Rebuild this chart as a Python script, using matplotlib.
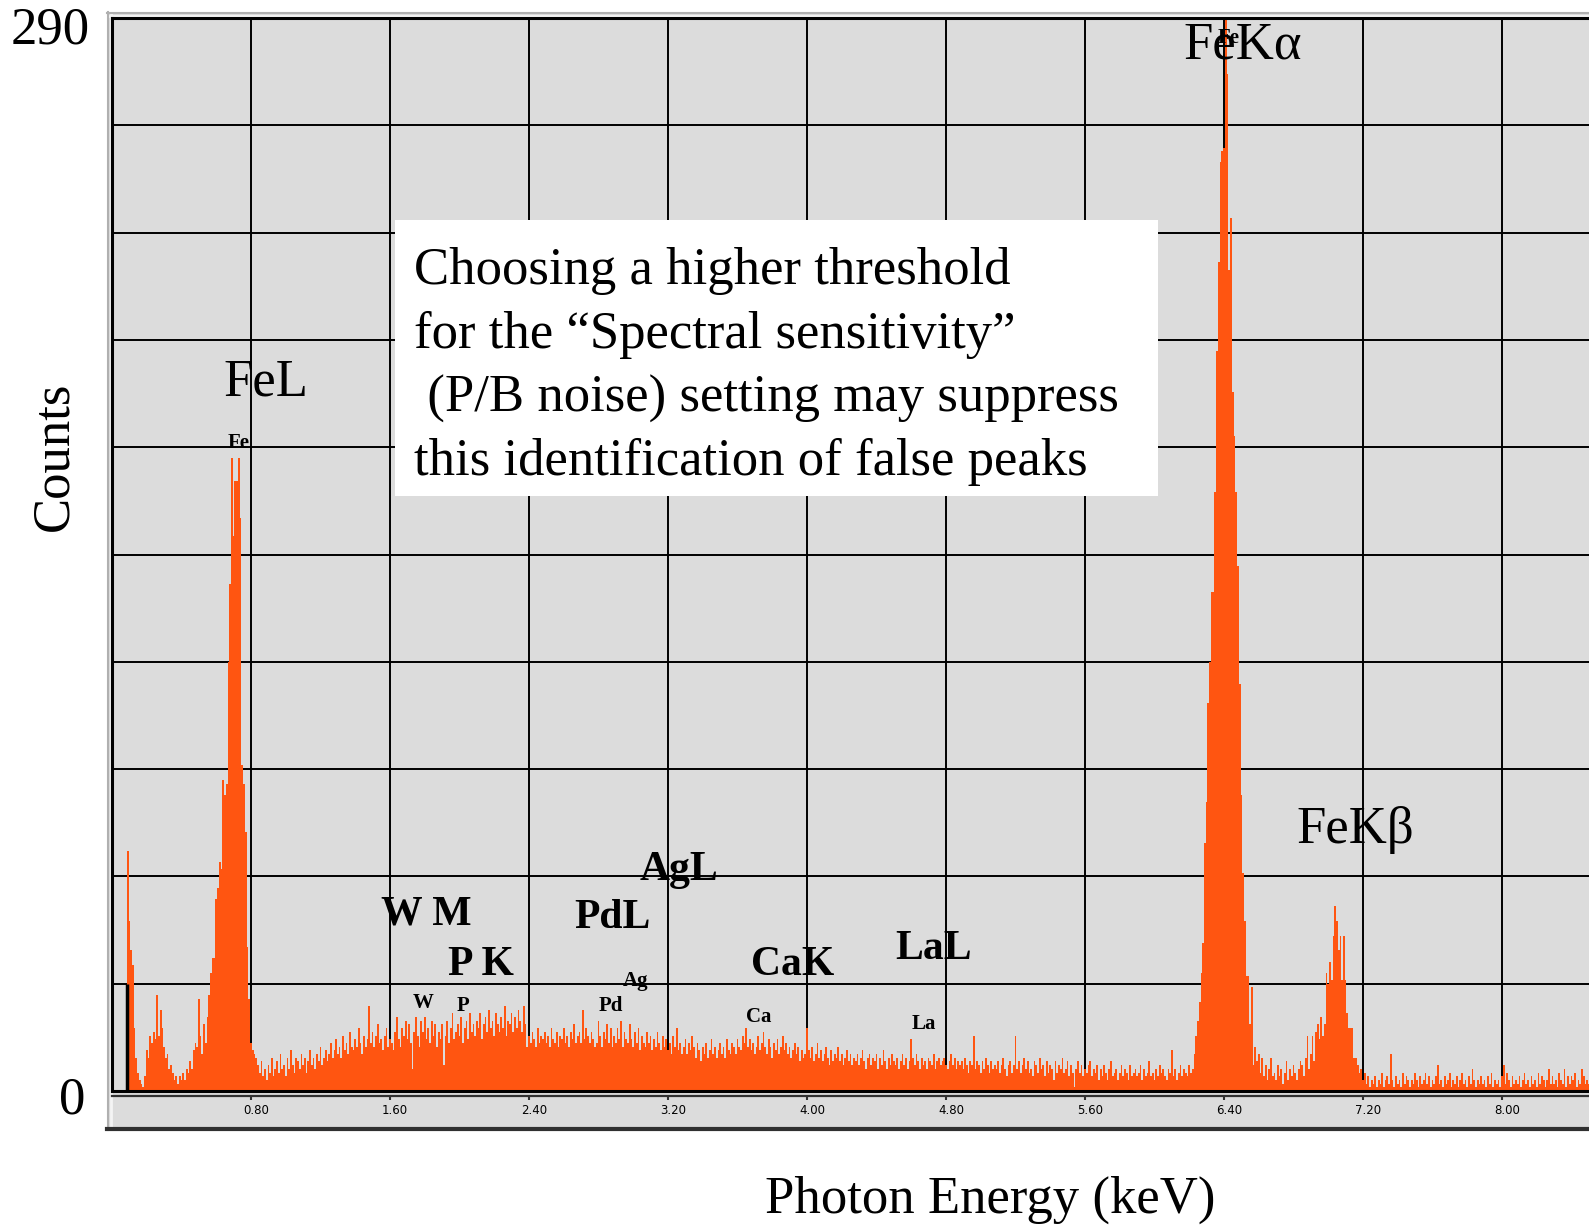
import numpy as np
import matplotlib.pyplot as plt
from matplotlib.patches import Rectangle
from matplotlib.lines import Line2D
from matplotlib.transforms import ScaledTranslation

plt.rcParams['font.family'] = ['Liberation Serif', 'DejaVu Serif']

# spectrum, 10 eV channels, counts
start_a = 0.09
counts_a = [65, 46, 38, 34, 17, 9, 5, 3, 2, 1,
            4, 11, 9, 15, 13, 16, 14, 26, 15, 22,
            17, 12, 9, 10, 6, 7, 5, 3, 4, 2,
            4, 3, 5, 3, 6, 5, 8, 6, 11, 13,
            12, 25, 15, 10, 18, 13, 20, 26, 32, 36,
            36, 52, 55, 62, 60, 84, 80, 83, 116, 137,
            171, 150, 165, 165, 171, 155, 88, 83, 70, 39,
            25, 13, 11, 10, 9, 7, 5, 8, 4, 6,
            3, 7, 5, 9, 4, 6, 8, 5, 10, 6]

start_b = 0.99
counts_b = [7, 4, 9, 6, 11, 7, 5, 9, 8, 6,
            10, 7, 9, 5, 8, 11, 7, 9, 6, 10,
            8, 12, 7, 9, 11, 8, 10, 13, 9, 11,
            14, 10, 12, 9, 15, 11, 13, 10, 16, 12,
            11, 14, 12, 17, 13, 10, 15, 12, 14, 23,
            13, 16, 12, 15, 18, 13, 14, 11, 15, 17,
            12, 14, 13, 11, 16, 20, 14, 12, 17, 15,
            19, 14, 18, 13, 6, 16, 20, 15, 12, 19,
            16, 20, 14, 17, 13, 19, 15, 18, 12, 16,
            14, 18, 7, 15, 19, 13, 17, 21, 14, 16,
            18, 15, 20, 13, 17, 19, 14, 21, 16, 18,
            15, 19, 17, 21, 14, 18, 20, 16, 22, 17,
            19, 15, 21, 18, 16, 20, 17, 23, 15, 19,
            18, 21, 16, 20, 17, 22, 19, 16, 23, 18,
            12, 15, 13, 16, 14, 12, 17, 13, 15, 14,
            16, 13, 15, 12, 17, 14, 13, 16, 12, 15,
            14, 17, 13, 15, 12, 16, 14, 18, 13, 15,
            16, 13, 22, 14, 17, 15, 13, 16, 14, 12,
            13, 19, 15, 12, 16, 14, 18, 13, 17, 12,
            15, 13, 17, 14, 19, 12, 16, 14, 13, 18]

start_c = 2.99
counts_c = [14, 12, 16, 13, 17, 11, 15, 13, 12, 16,
            13, 15, 11, 14, 12, 16, 13, 11, 15, 12,
            14, 11, 13, 10, 15, 12, 17, 11, 13, 10,
            12, 14, 10, 13, 11, 15, 12, 9, 13, 11,
            8, 12, 10, 13, 9, 11, 14, 10, 12, 9,
            11, 13, 10, 12, 9, 14, 11, 10, 13, 12,
            10, 14, 12, 11, 15, 13, 17, 12, 14, 11,
            13, 10, 12, 15, 11, 13, 16, 12, 10, 14,
            12, 9, 13, 11, 14, 10, 12, 15, 11, 13,
            10, 12, 9, 11, 13, 10, 12, 8, 11, 9,
            10, 17, 11, 9, 12, 8, 10, 13, 9, 11,
            8, 10, 12, 9, 7, 11, 8, 10, 9, 12,
            8, 10, 7, 9, 11, 8, 10, 7, 9, 8,
            10, 7, 9, 11, 8, 6, 9, 10, 7, 9,
            8, 10, 6, 9, 7, 11, 8, 6, 9, 7,
            10, 8, 7, 9, 6, 8, 10, 7, 9, 6,
            8, 14, 9, 7, 10, 8, 6, 9, 7, 8,
            6, 9, 8, 7, 10, 6, 8, 9, 7, 8,
            9, 7, 6, 8, 10, 7, 9, 6, 8, 7,
            8, 6, 9, 7, 5, 8, 7, 15, 6, 8,
            7, 5, 8, 6, 9, 7, 5, 8, 6, 7,
            6, 8, 5, 7, 9, 6, 4, 7, 8, 5,
            7, 15, 6, 8, 5, 7, 9, 6, 8, 5,
            6, 4, 8, 7, 5, 9, 6, 7, 4, 8,
            5, 7, 6, 3, 8, 5, 7, 6, 9, 5,
            6, 8, 4, 7, 5, 1, 6, 8, 5, 7,
            4, 6, 5, 7, 8, 4, 6, 5, 7, 3,
            6, 4, 7, 5, 3, 6, 8, 4, 5, 6,
            3, 5, 7, 4, 6, 5, 3, 7, 4, 5,
            6, 4, 5, 7, 3, 6, 4, 5, 8, 4]

start_d = 5.99
counts_d = [5, 3, 6, 4, 7, 5, 6, 4, 3, 6,
            5, 11, 4, 6, 3, 5, 7, 4, 6, 5,
            4, 7, 5, 6, 10, 15, 19, 24, 32, 40,
            67, 78, 105, 116, 135, 135, 162, 200, 224, 251,
            254, 255, 296, 275, 222, 236, 189, 177, 162, 142,
            110, 80, 59, 46, 31, 31, 18, 28, 7, 12,
            8, 10, 5, 9, 4, 7, 3, 6, 9, 4,
            5, 3, 7, 4, 6, 2, 5, 8, 3, 6,
            4, 7, 5, 3, 6, 8, 7, 4, 9, 15,
            6, 10, 15, 8, 16, 18, 14, 20, 15, 18,
            32, 29, 35, 30, 42, 50, 46, 38, 42, 30,
            42, 30, 21, 17, 17, 17, 9, 9, 7, 5,
            6, 3, 5, 2, 4, 1, 3, 2, 4, 1,
            3, 2, 5, 1, 3, 4, 2, 10, 3, 1,
            4, 2, 3, 1, 5, 2, 4, 3, 1, 3,
            2, 5, 3, 1, 4, 2, 3, 5, 2, 4,
            1, 3, 2, 4, 7, 2, 3, 1, 4, 2,
            3, 5, 1, 3, 2, 4, 1, 3, 5, 2,
            3, 1, 4, 2, 6, 3, 1, 3, 2, 4,
            2, 3, 1, 4, 2, 5, 1, 3, 2, 3,
            1, 4, 7, 2, 5, 3, 1, 4, 2, 3,
            2, 4, 1, 3, 5, 2, 3, 1, 4, 2,
            3, 1, 5, 2, 4, 3, 1, 3, 6, 2,
            4, 2, 3, 1, 5, 3, 2, 6, 1, 4,
            2, 4, 3, 5, 1, 3, 2, 6, 4, 2,
            3, 2]

channel = 0.01
segments = [(start_a, counts_a), (start_b, counts_b), (start_c, counts_c), (start_d, counts_d)]

xticks = [0.8, 1.6, 2.4, 3.2, 4.0, 4.8, 5.6, 6.4, 7.2, 8.0]
xtick_labels = ['0.80', '1.60', '2.40', '3.20', '4.00', '4.80', '5.60', '6.40', '7.20', '8.00']
ymax = 290
ystep = 29

big_labels = [('FeL', 0.639, 188), ('FeKα', 6.164, 279), ('FeKβ', 6.815, 67)]
bold_labels = [('W M', 1.807, 45), ('P K', 2.125, 31.4), ('PdL', 2.88, 44),
               ('AgL', 3.263, 57.1), ('CaK', 3.92, 31.4), ('LaL', 4.727, 35.8)]
small_labels = [('Fe', 0.726, 175), ('W', 1.793, 23.7), ('P', 2.021, 22.9),
                ('Pd', 2.872, 22.9), ('Ag', 3.012, 29.7), ('Ca', 3.724, 19.9),
                ('La', 4.675, 18.0), ('Fe', 6.424, 284.5)]
note_lines = ['Choosing a higher threshold',
              'for the \u201cSpectral sensitivity\u201d',
              ' (P/B noise) setting may suppress',
              'this identification of false peaks']

W, H = 1589, 1225
fig = plt.figure(figsize=(W / 100, H / 100), dpi=100)


def fx(px):
    return px / W


def fy(py):
    return 1 - py / H


# software window frame
fig.patches.append(Rectangle((fx(107), fy(1130)), fx(1600) - fx(107), fy(12) - fy(1130),
                             transform=fig.transFigure, facecolor='#DCDCDC', edgecolor='none', zorder=-2))
fig.add_artist(Line2D([fx(108), fx(108)], [fy(12), fy(1130)], color='#B0B0B0', lw=1.5, zorder=-1))
fig.add_artist(Line2D([fx(110.5), fx(110.5)], [fy(14), fy(1127)], color='#F4F4F4', lw=2, zorder=-1))
fig.add_artist(Line2D([fx(107), fx(1600)], [fy(13), fy(13)], color='#B0B0B0', lw=1.5, zorder=-1))
fig.add_artist(Line2D([fx(110), fx(1600)], [fy(15.5), fy(15.5)], color='#F4F4F4', lw=2, zorder=-1))
fig.add_artist(Line2D([fx(107), fx(1600)], [fy(1129), fy(1129)], color='#303030', lw=3, zorder=-1))

xlim = (0, 8.564)

ax = fig.add_axes([fx(112), fy(1091), fx(1600) - fx(112), fy(18) - fy(1091)])
ax.set_facecolor('#DCDCDC')
ax.set_xlim(*xlim)
ax.set_ylim(0, ymax)

for e0, cts in segments:
    cts = np.array(cts, dtype=float)
    edges = e0 - channel / 2 + channel * np.arange(len(cts) + 1)
    ax.stairs(cts, edges, fill=True, color='#FF5511', lw=0, zorder=2)

ax.vlines(0.087, 0, ystep, color='black', lw=2.5, zorder=3)

ax.set_xticks(xticks)
ax.set_yticks(np.arange(ystep, ymax, ystep))
ax.grid(True, color='black', lw=1.4)
ax.set_axisbelow(True)
ax.tick_params(length=0, labelbottom=False, labelleft=False)
for s in ax.spines.values():
    s.set_color('black')
    s.set_linewidth(2.2)

for txt, x, y in big_labels:
    ax.text(x, y, txt, fontsize=38, ha='left', va='baseline', zorder=6)
for txt, x, y in bold_labels:
    ax.text(x, y, txt, fontsize=30, fontweight='bold', ha='center', va='baseline', zorder=6)
for txt, x, y in small_labels:
    ax.text(x, y, txt, fontsize=15, fontweight='bold', ha='center', va='center', zorder=6)

# white note box
ax.add_patch(Rectangle((fx(395), fy(496)), fx(1158) - fx(395), fy(220) - fy(496),
                       transform=fig.transFigure, facecolor='white', edgecolor='none', zorder=5))
for i, line in enumerate(note_lines):
    ax.text(fx(414.5), fy(284 + 63.8 * i), line, transform=fig.transFigure,
            fontsize=38, ha='left', va='baseline', zorder=6)

# energy ruler under the plot
rax = fig.add_axes([fx(112), fy(1103), fx(1600) - fx(112), fy(1096) - fy(1103)])
rax.set_xlim(*xlim)
rax.patch.set_alpha(0)
for name, s in rax.spines.items():
    s.set_visible(name == 'top')
rax.spines['top'].set_color('#303030')
rax.spines['top'].set_linewidth(1.6)
rax.set_yticks([])
rax.set_xticks(xticks, xtick_labels)
rax.tick_params(axis='x', length=0, pad=1.0, labelsize=8.5)
rax.vlines(xticks, 0.45, 1, transform=rax.get_xaxis_transform(), color='#303030', lw=1.5)
offset = ScaledTranslation(5 / 100, 0, fig.dpi_scale_trans)
for lbl in rax.get_xticklabels():
    lbl.set_fontfamily('DejaVu Sans')
    lbl.set_transform(lbl.get_transform() + offset)

fig.text(fx(90), fy(43), '290', fontsize=38, ha='right', va='baseline')
fig.text(fx(85), fy(1113), '0', fontsize=38, ha='right', va='baseline')
fig.text(fx(54), fy(456), 'Counts', fontsize=38, rotation=90, ha='center', va='center')
fig.text(fx(990), fy(1213), 'Photon Energy (keV)', fontsize=38, ha='center', va='baseline')

fig.savefig('out.png', dpi=100, facecolor='white')
